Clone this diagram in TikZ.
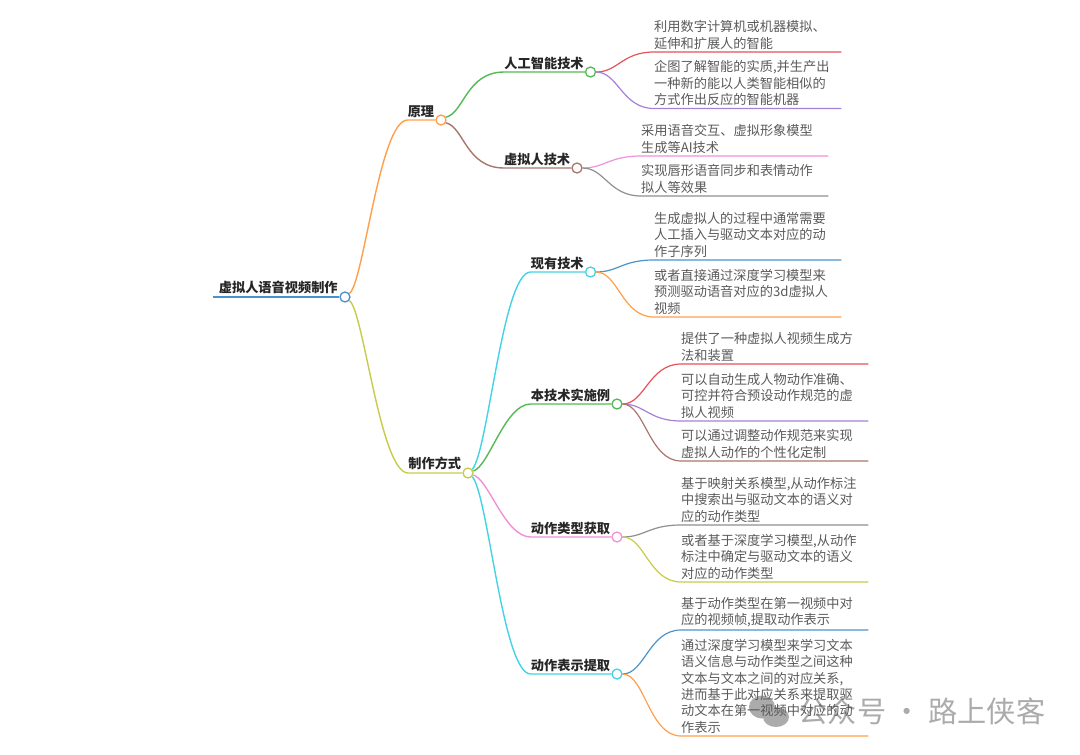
\documentclass[tikz,border=0pt]{standalone}
\usepackage{xcolor}
\usepackage{fontspec}
\setmainfont{Noto Sans CJK SC}
\usetikzlibrary{shapes.geometric, positioning}
\definecolor{rootblue}{HTML}{4A90CC}
\definecolor{mapblue}{HTML}{4A94CC}
\definecolor{maporange}{HTML}{FF9F4A}
\definecolor{mapolive}{HTML}{C9C94A}
\definecolor{mapgreen}{HTML}{55B955}
\definecolor{mapbrown}{HTML}{A8766A}
\definecolor{mapcyan}{HTML}{45D2E4}
\definecolor{mapred}{HTML}{E8505A}
\definecolor{mappurple}{HTML}{A67FD6}
\definecolor{mappink}{HTML}{F090D8}
\definecolor{mapgray}{HTML}{8F8F8F}
\definecolor{leaftext}{HTML}{5A5A5A}
\definecolor{marktext}{HTML}{ABABAB}

\begin{document}
\begin{tikzpicture}[
  x=1pt, y=-1pt,
  knob/.style={
    circle, draw=#1, fill=white, line width=1.3pt,
    minimum size=10pt, inner sep=0pt,
  },
  topic/.style={
    inner xsep=0pt, inner ysep=2.5pt,
    font=\fontsize{13.2}{16}\selectfont\bfseries, text=black!85,
  },
  leaf/.style={
    anchor=south west, inner xsep=0pt, inner ysep=2.5pt,
    text width=187pt, align=left, text=leaftext,
    font=\fontsize{13.2}{16.4}\selectfont,
  },
  branch/.style={draw=#1, line width=1.4pt},
  twig/.style={draw=#1, line width=1.2pt},
]
\useasboundingbox (0,0) rectangle (1080,755);

% watermark, under the texts
\node[ellipse, fill=marktext, minimum width=26pt, minimum height=23pt, inner sep=0pt] (bubblea) at (762,707) {};
\node[ellipse, fill=marktext, minimum width=26pt, minimum height=20pt, inner sep=0pt] (bubbleb) at (776,717) {};
\node[text=marktext, font=\fontsize{29.2}{32}\selectfont, inner sep=0pt] (mark) at (922,711) {公众号 · 路上侠客};

% knobs of the map
\coordinate (start) at (213,297);
\node[knob=rootblue]  (rootk)  at (345,297) {};
\node[knob=maporange] (princ)  at (441,120) {};
\node[knob=mapolive]  (make)   at (468,473) {};
\node[knob=mapgreen]  (aik)    at (590.5,72) {};
\node[knob=mapbrown]  (vhk)    at (577,168) {};
\node[knob=mapcyan]   (nowk)   at (590.5,272) {};
\node[knob=mapgreen]  (demok)  at (617,404) {};
\node[knob=mappink]   (typek)  at (617,537) {};
\node[knob=mapcyan]   (reprk)  at (617,674) {};

% topic labels, sitting on their lines
\node[topic, above left=0pt and 1.5pt of rootk.west]  (root) {虚拟人语音视频制作};
\node[topic, above left=0pt and 1pt of princ.west] (princl) {原理};
\node[topic, above left=0pt and 1pt of make.west]  (makel)  {制作方式};
\node[topic, above left=0pt and 1pt of aik.west]   (ail)    {人工智能技术};
\node[topic, above left=0pt and 1pt of vhk.west]   (vhl)    {虚拟人技术};
\node[topic, above left=0pt and 1pt of nowk.west]  (nowl)   {现有技术};
\node[topic, above left=0pt and 1pt of demok.west] (demol)  {本技术实施例};
\node[topic, above left=0pt and 1pt of typek.west] (typel)  {动作类型获取};
\node[topic, above left=0pt and 1pt of reprk.west] (reprl)  {动作表示提取};

% leaf texts
\node[leaf] (ai1) at (654,52) {利用数字计算机或机器模拟、\\延伸和扩展人的智能};
\node[leaf] (ai2) at (654,108.5) {企图了解智能的实质,并生产出\\一种新的能以人类智能相似的\\方式作出反应的智能机器};
\node[leaf] (vh1) at (641,156) {采用语音交互、虚拟形象模型\\生成等AI技术};
\node[leaf] (vh2) at (641,196) {实现唇形语音同步和表情动作\\拟人等效果};
\node[leaf] (now1) at (654,260) {生成虚拟人的过程中通常需要\\人工插入与驱动文本对应的动\\作子序列};
\node[leaf] (now2) at (654,317) {或者直接通过深度学习模型来\\预测驱动语音对应的3d虚拟人\\视频};
\node[leaf] (demo1) at (681,364) {提供了一种虚拟人视频生成方\\法和装置};
\node[leaf] (demo2) at (681,421) {可以自动生成人物动作准确、\\可控并符合预设动作规范的虚\\拟人视频};
\node[leaf] (demo3) at (681,461) {可以通过调整动作规范来实现\\虚拟人动作的个性化定制};
\node[leaf] (type1) at (681,525) {基于映射关系模型,从动作标注\\中搜索出与驱动文本的语义对\\应的动作类型};
\node[leaf] (type2) at (681,582) {或者基于深度学习模型,从动作\\标注中确定与驱动文本的语义\\对应的动作类型};
\node[leaf] (repr1) at (681,630) {基于动作类型在第一视频中对\\应的视频帧,提取动作表示};
\node[leaf] (repr2) at (681,736) {通过深度学习模型来学习文本\\语义信息与动作类型之间这种\\文本与文本之间的对应关系,\\进而基于此对应关系来提取驱\\动文本在第一视频中对应的动\\作表示};

% main branches
\draw[branch=rootblue] (start) -- (rootk.west);
\draw[branch=maporange] (rootk.40) .. controls +(14,-8) and +(-28,0) .. (princl.south west) -- (princ.west);
\draw[branch=mapolive] (rootk.-40) .. controls +(14,8) and +(-28,0) .. (makel.south west) -- (make.west);

% under the first branch
\draw[branch=mapgreen] (princ.30) .. controls +(18,-4) and +(-38,0) .. (ail.south west) -- (aik.west);
\draw[branch=mapbrown] (princ.-30) .. controls +(18,4) and +(-38,0) .. (vhl.south west) -- (vhk.west);

% under the second branch
\draw[branch=mapcyan] (make.40) .. controls +(16,-19) and +(-28,0) .. (nowl.south west) -- (nowk.west);
\draw[branch=mapgreen] (make.20) .. controls +(16,-5) and +(-26,0) .. (demol.south west) -- (demok.west);
\draw[branch=mappink] (make.-20) .. controls +(16,5) and +(-26,0) .. (typel.south west) -- (typek.west);
\draw[branch=mapcyan] (make.-40) .. controls +(16,19) and +(-28,0) .. (reprl.south west) -- (reprk.west);

% twigs out to the leaves
\draw[twig=mapred] (aik.east) .. controls +(22,0) and +(-32,0) .. (ai1.south west) -- (ai1.south east);
\draw[twig=mappurple] (aik.east) .. controls +(22,0) and +(-32,0) .. (ai2.south west) -- (ai2.south east);
\draw[twig=mappink] (vhk.east) .. controls +(22,0) and +(-32,0) .. (vh1.south west) -- (vh1.south east);
\draw[twig=mapgray] (vhk.east) .. controls +(22,0) and +(-32,0) .. (vh2.south west) -- (vh2.south east);
\draw[twig=mapblue] (nowk.east) .. controls +(22,0) and +(-32,0) .. (now1.south west) -- (now1.south east);
\draw[twig=maporange] (nowk.east) .. controls +(22,0) and +(-32,0) .. (now2.south west) -- (now2.south east);
\draw[twig=mapred] (demok.east) .. controls +(22,0) and +(-32,0) .. (demo1.south west) -- (demo1.south east);
\draw[twig=mappurple] (demok.east) .. controls +(22,0) and +(-32,0) .. (demo2.south west) -- (demo2.south east);
\draw[twig=mapbrown] (demok.east) .. controls +(22,0) and +(-32,0) .. (demo3.south west) -- (demo3.south east);
\draw[twig=mapgray] (typek.east) .. controls +(22,0) and +(-32,0) .. (type1.south west) -- (type1.south east);
\draw[twig=mapolive] (typek.east) .. controls +(22,0) and +(-32,0) .. (type2.south west) -- (type2.south east);
\draw[twig=mapblue] (reprk.east) .. controls +(22,0) and +(-32,0) .. (repr1.south west) -- (repr1.south east);
\draw[twig=maporange] (reprk.east) .. controls +(22,0) and +(-32,0) .. (repr2.south west) -- (repr2.south east);

\end{tikzpicture}
\end{document}
